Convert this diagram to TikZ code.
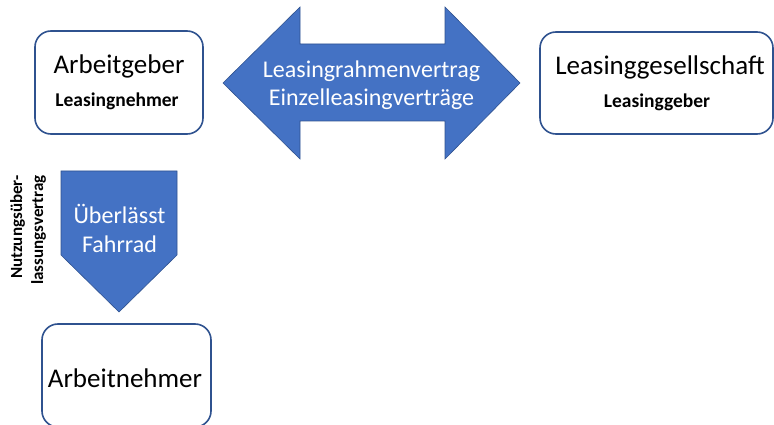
\documentclass[tikz,border=0pt]{standalone}
\usepackage{fontspec}
\setmainfont{Carlito}
\definecolor{officeblue}{HTML}{4472C4}
\definecolor{borderblue}{HTML}{2F528F}
\begin{document}
\begin{tikzpicture}[x=1pt,y=-1pt,
		partybox/.style={draw=borderblue,line width=1.6pt,rounded corners=16pt,fill=white},
		blockarrow/.style={fill=officeblue,draw=borderblue,line width=0.6pt},
		arrowtext/.style={text=white,align=center,font=\fontsize{24}{27.5}\selectfont},
		title/.style={anchor=base,font=\fontsize{27}{32}\selectfont},
		subtitle/.style={anchor=base,font=\bfseries\fontsize{19.5}{23}\selectfont}]
	\useasboundingbox (0,0) rectangle (774,425);
	% boxes
	\coordinate (AG1) at (35,31);
	\coordinate (AG2) at (203,134);
	\coordinate (LG1) at (540,32);
	\coordinate (LG2) at (773,134);
	\coordinate (AN1) at (42,324);
	\coordinate (AN2) at (211,427);
	\draw[partybox] (AG1) rectangle (AG2);
	\draw[partybox] (LG1) rectangle (LG2);
	\draw[partybox] (AN1) rectangle (AN2);
	% double arrow between Arbeitgeber and Leasinggesellschaft
	\draw[blockarrow] (223,83) -- (300,7) -- (300,44) -- (445,44) -- (445,7) -- (520,83)
		-- (445,159) -- (445,121) -- (300,121) -- (300,159) -- cycle;
	% arrow down to Arbeitnehmer
	\draw[blockarrow] (61,171) -- (177,171) -- (177,255) -- (119,312) -- (61,255) -- cycle;
	% texts
	\node[title] (arbeitgeber) at (119,74) {Arbeitgeber};
	\node[subtitle] (leasingnehmer) at (117,107) {Leasingnehmer};
	\node[title] (gesellschaft) at (660,75) {Leasinggesellschaft};
	\node[subtitle] (leasinggeber) at (657,108) {Leasinggeber};
	\node[title] (arbeitnehmer) at (125,387) {Arbeitnehmer};
	\node[arrowtext] (vertraege) at (371.5,85) {Leasingrahmenvertrag\\Einzelleasingverträge};
	\node[arrowtext,font=\fontsize{24}{29}\selectfont] (fahrrad) at (119.5,228) {Überlässt\\Fahrrad};
	\node[rotate=90,align=right,font=\bfseries\fontsize{17}{21}\selectfont] (nutzung) at (28,230)
		{Nutzungsüber-\\lassungsvertrag};
\end{tikzpicture}
\end{document}
